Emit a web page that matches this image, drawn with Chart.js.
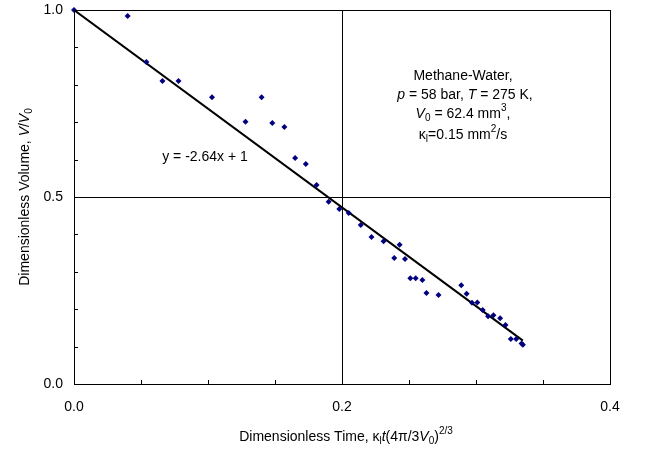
<!DOCTYPE html>
<html>
<head>
<meta charset="utf-8">
<script src="https://cdn.jsdelivr.net/npm/chart.js@4"></script>
<style>
  body { margin: 0; background: #fff; }
  #bubble { display: block; }
</style>
</head>
<body>
<canvas id="bubble" width="650" height="453"></canvas>
<script>
//Data
let timeX = [0, 0.040, 0.054, 0.066, 0.078, 0.103, 0.128, 0.140, 0.148, 0.157,
  0.165, 0.173, 0.181, 0.190, 0.198, 0.205, 0.214, 0.222, 0.231, 0.239,
  0.243, 0.247, 0.251, 0.255, 0.260, 0.263, 0.272, 0.289, 0.293, 0.297,
  0.301, 0.305, 0.309, 0.313, 0.318, 0.322, 0.326, 0.330, 0.334, 0.335];
let volumeY = [1.0, 0.984, 0.861, 0.810, 0.810, 0.767, 0.701, 0.767, 0.698, 0.687,
  0.604, 0.588, 0.532, 0.487, 0.468, 0.457, 0.425, 0.393, 0.382, 0.337,
  0.372, 0.334, 0.283, 0.283, 0.278, 0.243, 0.238, 0.264, 0.241, 0.217,
  0.218, 0.198, 0.181, 0.184, 0.176, 0.158, 0.120, 0.120, 0.108, 0.105];
let trendX = [0, 0.335];
let trendY = [1, 0.116];
let xLabels = ["0.0", "0.2", "0.4"];
let yLabels = ["0.0", "0.5", "1.0"];

let FONT = "'Liberation Sans', Arial, sans-serif";

function isMajor(v, step) {
  return Math.abs(v / step - Math.round(v / step)) < 1e-6;
}

//rich text: segments of [text, style], style n / i / sub / sup
function richText(ctx, segs, cx, cy, size) {
  let small = Math.round(size * 0.7);
  let fontFor = function (s) {
    if (s == "i") return "italic " + size + "px " + FONT;
    if (s == "sub" || s == "sup") return small + "px " + FONT;
    return size + "px " + FONT;
  };
  let total = 0;
  segs.forEach(function (g) {
    ctx.font = fontFor(g[1]);
    total += ctx.measureText(g[0]).width;
  });
  let x = cx - total / 2;
  ctx.textBaseline = "middle";
  ctx.textAlign = "left";
  segs.forEach(function (g) {
    ctx.font = fontFor(g[1]);
    let dy = 0;
    if (g[1] == "sub") dy = 4;
    if (g[1] == "sup") dy = -6;
    ctx.fillText(g[0], x, cy + dy);
    x += ctx.measureText(g[0]).width;
  });
}

let decor = {
  id: "decor",
  afterDraw: function (chart) {
    let ctx = chart.ctx;
    let a = chart.chartArea;
    let xs = chart.scales.x;
    let ys = chart.scales.y;
    ctx.save();
    ctx.strokeStyle = "#000";
    ctx.lineWidth = 1;
    //frame
    ctx.strokeRect(Math.round(a.left) + 0.5, Math.round(a.top) + 0.5,
      Math.round(a.right - a.left), Math.round(a.bottom - a.top));
    //inner minor ticks
    ctx.beginPath();
    xs.ticks.forEach(function (t) {
      let px = Math.round(xs.getPixelForValue(t.value)) + 0.5;
      ctx.moveTo(px, a.bottom);
      ctx.lineTo(px, a.bottom - 4);
    });
    ys.ticks.forEach(function (t) {
      let py = Math.round(ys.getPixelForValue(t.value)) + 0.5;
      ctx.moveTo(a.left, py);
      ctx.lineTo(a.left + 4, py);
    });
    ctx.stroke();

    ctx.fillStyle = "#000";
    //axis titles
    richText(ctx, [["Dimensionless Time, ", "n"], ["\u03BA", "n"], ["l", "sub"],
      ["t", "i"], ["(4\u03C0/3", "n"], ["V", "i"], ["0", "sub"], [")", "n"], ["2/3", "sup"]],
      (a.left + a.right) / 2 + 4, 437, 14);
    ctx.save();
    ctx.translate(25, (a.top + a.bottom) / 2);
    ctx.rotate(-Math.PI / 2);
    richText(ctx, [["Dimensionless Volume, ", "n"], ["V", "i"], ["/", "n"], ["V", "i"], ["0", "sub"]],
      0, 0, 14);
    ctx.restore();

    //annotations
    richText(ctx, [["Methane-Water,", "n"]], 463, 76, 14);
    richText(ctx, [["p", "i"], [" = 58 bar, ", "n"], ["T", "i"], [" = 275 K,", "n"]], 465, 95, 14);
    richText(ctx, [["V", "i"], ["0", "sub"], [" = 62.4 mm", "n"], ["3", "sup"], [",", "n"]], 463, 114, 14);
    richText(ctx, [["\u03BA", "n"], ["l", "sub"], ["=0.15 mm", "n"], ["2", "sup"], ["/s", "n"]], 463, 135, 14);
    richText(ctx, [["y = -2.64x + 1", "n"]], 205, 157, 14);
    ctx.restore();
  },
};

let mychart = document.getElementById("bubble").getContext("2d");
let Bubble = new Chart(mychart, {
  type: "scatter",
  data: {
    datasets: [
      {
        label: "Measured",
        data: timeX.map(function (x, i) { return { x: x, y: volumeY[i] }; }),
        pointStyle: "rectRot",
        pointRadius: 3,
        backgroundColor: "#000080",
        borderColor: "#000080",
        borderWidth: 0,
        clip: false,
      },
      {
        label: "Linear",
        data: trendX.map(function (x, i) { return { x: x, y: trendY[i] }; }),
        showLine: true,
        pointRadius: 0,
        borderColor: "#000",
        borderWidth: 2,
      },
    ],
  },
  options: {
    responsive: false,
    animation: false,
    layout: { padding: { left: 0, top: 10, right: 40, bottom: 0 } },
    plugins: { legend: { display: false }, tooltip: { enabled: false } },
    scales: {
      x: {
        type: "linear",
        min: 0,
        max: 0.4,
        afterFit: function (s) {
          s.height = 69;
          s.paddingLeft = 0;
          s.paddingRight = 0;
        },
        border: { display: false },
        grid: {
          drawTicks: false,
          color: function (c) {
            return c.tick && isMajor(c.tick.value, 0.2) ? "#000" : "rgba(0,0,0,0)";
          },
        },
        ticks: {
          stepSize: 0.05,
          autoSkip: false,
          maxRotation: 0,
          padding: 15,
          color: "#000",
          font: { family: FONT, size: 14 },
          callback: function (v) {
            return isMajor(v, 0.2) ? xLabels[Math.round(v / 0.2)] : "";
          },
        },
      },
      y: {
        min: 0,
        max: 1,
        afterFit: function (s) {
          s.width = 74;
          s.paddingTop = 0;
          s.paddingBottom = 0;
        },
        border: { display: false },
        grid: {
          drawTicks: false,
          color: function (c) {
            return c.tick && isMajor(c.tick.value, 0.5) ? "#000" : "rgba(0,0,0,0)";
          },
        },
        ticks: {
          stepSize: 0.1,
          autoSkip: false,
          padding: 11,
          color: "#000",
          font: { family: FONT, size: 14 },
          callback: function (v) {
            return isMajor(v, 0.5) ? yLabels[Math.round(v / 0.5)] : "";
          },
        },
      },
    },
  },
  plugins: [decor],
});
</script>
</body>
</html>
